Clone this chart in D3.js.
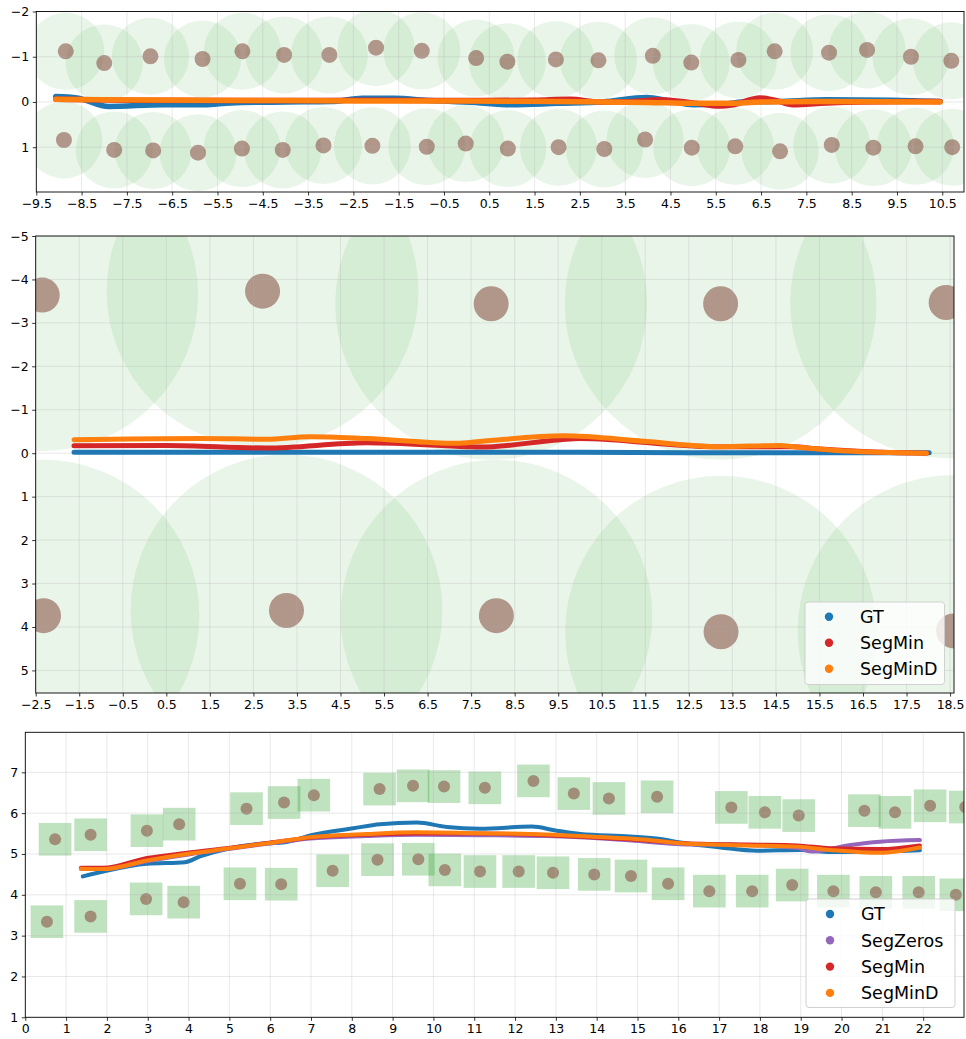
<!DOCTYPE html>
<html>
<head>
<meta charset="utf-8">
<script src="https://cdn.jsdelivr.net/npm/d3@7"></script>
<style>
body { margin: 0; background: #fff; }
svg { display: block; font-family: "DejaVu Sans", sans-serif; }
</style>
</head>
<body>
<svg id="vis" width="966" height="1039"></svg>
<script>
// ---- panel 1 : cones on both sides, trajectories near y = 0
var p1UpperCones = [[-8.85,-1.12],[-8.0,-0.86],[-6.98,-1.01],[-5.83,-0.95],[-4.95,-1.12],[-4.03,-1.04],[-3.03,-1.04],[-2.0,-1.2],[-0.99,-1.13],[0.21,-0.97],
	[0.9,-0.89],[1.97,-0.94],[2.91,-0.92],[4.11,-1.02],[4.96,-0.87],[6.0,-0.93],[6.8,-1.12],[8.0,-1.09],[8.84,-1.15],[9.81,-1.0],[10.7,-0.91]];
var p1LowerCones = [[-8.89,0.84],[-7.78,1.06],[-6.92,1.07],[-5.93,1.12],[-4.96,1.03],[-4.06,1.06],[-3.16,0.96],[-2.08,0.97],[-0.88,0.99],[-0.02,0.92],
	[0.91,1.03],[2.03,1.0],[3.04,1.04],[3.94,0.83],[4.97,1.01],[5.93,0.98],[6.92,1.09],[8.06,0.95],[8.98,1.01],[9.91,0.98],[10.72,1.0]];
var p1ConeRadius = 0.85;
var p1GT = [[-9.07,-0.12],[-8.6,-0.09],[-7.9,0.10],[-6.7,0.06],[-5.8,0.06],[-5.2,0.02],[-4.0,0.0],[-3.0,-0.01],[-2.3,-0.08],[-1.6,-0.08],[-0.8,-0.03],
	[0.3,0.02],[1.0,0.06],[2.0,0.03],[3.0,0.0],[3.97,-0.10],[4.5,-0.02],[5.0,0.06],[5.6,0.05],[6.1,0.0],[6.85,-0.01],[7.95,-0.05],[9.4,-0.04],[10.45,-0.01]];
var p1SegMin = [[-9.07,-0.06],[-7.5,-0.04],[-5.0,-0.03],[-2.0,-0.04],[0.0,-0.03],[1.5,-0.04],[2.28,-0.06],[2.94,0.0],[3.5,0.0],[4.26,-0.05],[5.0,0.02],
	[5.59,0.09],[5.89,0.06],[6.47,-0.09],[6.8,-0.04],[7.2,0.06],[7.95,0.02],[8.7,0.0],[10.45,-0.01]];
var p1SegMinD = [[-9.07,-0.06],[-8.0,-0.05],[-6.0,-0.04],[-4.0,-0.03],[-2.0,-0.02],[0.0,-0.02],[2.0,-0.01],[4.0,0.01],[5.0,0.03],[5.8,0.03],[6.5,0.0],[8.0,-0.01],[10.45,0.0]];
var p1XTicks = d3.range(-9.5, 10.6, 1);
var p1YTicks = [-2, -1, 0, 1];

// ---- panel 2 : wide cones
var p2UpperCones = [[-2.35,-3.64],[2.71,-3.73],[7.96,-3.44],[13.23,-3.44],[18.41,-3.47]];
var p2LowerCones = [[-2.32,3.74],[3.26,3.62],[8.08,3.74],[13.24,4.11],[18.58,4.09]];
var p2ConeRadius = 3.58;
var p2GT = [[-1.62,-0.02],[2,-0.02],[6,-0.02],[10,-0.02],[14,-0.01],[18.02,-0.01]];
var p2SegMin = [[-1.62,-0.17],[0.51,-0.18],[2.8,-0.12],[5.1,-0.24],[7.4,-0.15],[7.7,-0.14],[9.54,-0.31],[9.99,-0.34],[13.06,-0.15],[14.9,-0.15],
	[15.35,-0.11],[16.5,-0.04],[17.96,0.0]];
var p2SegMinD = [[-1.62,-0.31],[1.27,-0.34],[2.8,-0.32],[3.8,-0.38],[5.1,-0.34],[7.17,-0.23],[7.7,-0.27],[9.62,-0.4],[11.53,-0.27],[13.2,-0.15],
	[14.6,-0.18],[14.9,-0.15],[16.1,-0.05],[17.96,0.0]];
var p2XTicks = d3.range(-2.5, 18.6, 1);
var p2YTicks = d3.range(-5, 6, 1);

// ---- panel 3 : square cones
var p3UpperCones = [[0.73,5.36],[1.6,5.47],[2.98,5.57],[3.77,5.73],[5.42,6.11],[6.34,6.26],[7.07,6.44],[8.68,6.59],[9.5,6.67],[10.26,6.65],[11.26,6.62],
	[12.45,6.79],[13.44,6.48],[14.3,6.36],[15.48,6.4],[17.3,6.14],[18.12,6.02],[18.95,5.94],[20.56,6.06],[21.31,6.02],[22.17,6.18],[23.03,6.15]];
var p3LowerCones = [[0.53,3.34],[1.6,3.47],[2.96,3.9],[3.88,3.82],[5.26,4.27],[6.27,4.26],[7.53,4.59],[8.63,4.86],[9.63,4.87],[10.28,4.61],[11.14,4.57],
	[12.09,4.57],[12.93,4.54],[13.94,4.5],[14.84,4.46],[15.75,4.27],[16.76,4.09],[17.81,4.09],[18.79,4.24],[19.8,4.09],[20.84,4.06],[21.89,4.06],[22.8,4.0]];
var p3ConeSide = 0.8;
var p3GT = [[1.41,4.45],[1.99,4.59],[2.98,4.76],[3.91,4.8],[4.28,4.94],[5.02,5.14],[5.92,5.26],[6.32,5.28],[7.06,5.47],[8.04,5.63],[8.69,5.73],[9.59,5.77],
	[10.33,5.66],[11.14,5.62],[12.41,5.67],[13.02,5.57],[13.6,5.49],[14.82,5.43],[15.56,5.37],[16.05,5.28],[17.03,5.16],[17.93,5.08],[19.0,5.1],
	[19.72,5.05],[20.94,5.06],[21.92,5.09]];
var p3SegZeros = [[1.36,4.64],[1.91,4.63],[2.98,4.82],[3.96,4.98],[5.02,5.13],[5.92,5.25],[6.98,5.38],[8.37,5.44],[9.59,5.47],[11.14,5.46],[12.78,5.44],
	[13.84,5.4],[15.23,5.3],[16.05,5.24],[17.68,5.22],[18.91,5.15],[19.25,5.06],[20.22,5.22],[20.94,5.3],[21.92,5.34]];
var p3SegMin = [[1.36,4.66],[1.91,4.66],[2.98,4.9],[3.96,5.03],[5.02,5.15],[5.92,5.27],[6.98,5.4],[8.37,5.47],[9.59,5.5],[11.14,5.5],[12.78,5.46],
	[13.84,5.41],[15.23,5.33],[16.05,5.27],[17.68,5.23],[18.91,5.21],[19.72,5.14],[20.94,5.12],[21.92,5.21]];
var p3SegMinD = [[1.36,4.64],[1.91,4.63],[2.98,4.84],[3.96,5.0],[5.02,5.14],[5.92,5.26],[6.98,5.41],[8.37,5.49],[9.59,5.53],[11.14,5.51],[12.78,5.48],
	[13.84,5.43],[15.23,5.35],[16.05,5.26],[17.68,5.21],[18.91,5.18],[19.72,5.1],[20.94,5.03],[21.92,5.16]];
var p3XTicks = d3.range(0, 23, 1);
var p3YTicks = d3.range(1, 8, 1);

var legend2 = ["GT", "SegMin", "SegMinD"];
var legend3 = ["GT", "SegZeros", "SegMin", "SegMinD"];

var COLORS = {GT: "#1f77b4", SegZeros: "#9467bd", SegMin: "#d62728", SegMinD: "#ff7f0e"};
var GREEN = "#2ca02c", BROWN = "#8c564b";

var svg = d3.select("#vis");

function makePanel(id, box, xDom, yDom, yUp) {
	var x = d3.scaleLinear().domain(xDom).range([box.left, box.right]);
	var y = d3.scaleLinear().domain(yDom).range(yUp ? [box.bottom, box.top] : [box.top, box.bottom]);
	svg.append("clipPath").attr("id", id).append("rect")
	   .attr("x", box.left).attr("y", box.top)
	   .attr("width", box.right - box.left).attr("height", box.bottom - box.top);
	var g = svg.append("g");
	var plot = g.append("g").attr("clip-path", "url(#" + id + ")");
	return {x: x, y: y, g: g, plot: plot, box: box};
}

function drawCircles(p, cones, r, dotR) {
	var rpx = Math.abs(p.x(r) - p.x(0));
	p.plot.append("g").selectAll("circle").data(cones).enter().append("circle")
	  .attr("cx", d => p.x(d[0])).attr("cy", d => p.y(d[1])).attr("r", rpx)
	  .style("fill", GREEN).style("fill-opacity", 0.1);
}

function drawSquares(p, cones, side) {
	var s = Math.abs(p.x(side) - p.x(0));
	p.plot.append("g").selectAll("rect").data(cones).enter().append("rect")
	  .attr("x", d => p.x(d[0]) - s / 2).attr("y", d => p.y(d[1]) - s / 2)
	  .attr("width", s).attr("height", s)
	  .style("fill", GREEN).style("fill-opacity", 0.3);
}

function drawDots(p, cones, dotR) {
	p.plot.append("g").selectAll("circle").data(cones).enter().append("circle")
	  .attr("cx", d => p.x(d[0])).attr("cy", d => p.y(d[1])).attr("r", dotR)
	  .style("fill", BROWN).style("fill-opacity", 0.6);
}

function drawGrid(p, xTicks, yTicks) {
	var gg = p.plot.append("g").style("stroke", "#b0b0b0").style("stroke-opacity", 0.35).style("stroke-width", 0.8);
	gg.selectAll("line.vx").data(xTicks).enter().append("line")
	  .attr("x1", d => p.x(d)).attr("x2", d => p.x(d))
	  .attr("y1", p.box.top).attr("y2", p.box.bottom);
	gg.selectAll("line.hy").data(yTicks).enter().append("line")
	  .attr("y1", d => p.y(d)).attr("y2", d => p.y(d))
	  .attr("x1", p.box.left).attr("x2", p.box.right);
}

function drawTrack(p, pts, color, width) {
	var line = d3.line().x(d => p.x(d[0])).y(d => p.y(d[1])).curve(d3.curveMonotoneX);
	p.plot.append("path").attr("d", line(pts))
	  .style("fill", "none").style("stroke", color).style("stroke-width", width)
	  .style("stroke-linecap", "round").style("stroke-linejoin", "round");
}

function drawAxes(p, xTicks, yTicks, xFmt, yFmt) {
	var xa = d3.axisBottom(p.x).tickValues(xTicks).tickFormat(xFmt).tickSize(3.5).tickPadding(3.5).tickSizeOuter(0);
	var ya = d3.axisLeft(p.y).tickValues(yTicks).tickFormat(yFmt).tickSize(3.5).tickPadding(3.5).tickSizeOuter(0);
	var gx = p.g.append("g").attr("transform", "translate(0," + p.box.bottom + ")").call(xa);
	var gy = p.g.append("g").attr("transform", "translate(" + p.box.left + ",0)").call(ya);
	[gx, gy].forEach(function(a) {
		a.select(".domain").remove();
		a.selectAll("line").style("stroke", "#000").style("stroke-width", 0.8);
		a.selectAll("text").style("font-size", "12.5px").style("fill", "#000")
		 .style("font-family", '"DejaVu Sans", sans-serif');
	});
	p.g.append("rect").attr("x", p.box.left).attr("y", p.box.top)
	   .attr("width", p.box.right - p.box.left).attr("height", p.box.bottom - p.box.top)
	   .style("fill", "none").style("stroke", "#000").style("stroke-width", 0.9);
}

function drawLegend(p, box, names, rowY0, rowStep) {
	var lg = p.g.append("g");
	lg.append("rect").attr("x", box.x).attr("y", box.y).attr("width", box.w).attr("height", box.h)
	  .attr("rx", 3).style("fill", "#fff").style("fill-opacity", 0.8)
	  .style("stroke", "#cccccc").style("stroke-width", 0.9);
	var rows = lg.selectAll("g.row").data(names).enter().append("g")
	  .attr("transform", (d, i) => "translate(0," + (rowY0 + i * rowStep) + ")");
	rows.append("circle").attr("cx", box.x + 24).attr("cy", 0).attr("r", 4.2)
	  .style("fill", d => COLORS[d]);
	rows.append("text").attr("x", box.x + 55).attr("y", 0).attr("dy", "0.36em")
	  .style("font-size", "17.5px").style("fill", "#000").text(d => d);
}

var f1 = d3.format(".1f"), f0 = d3.format("d");

// panel 1
var p1 = makePanel("clip1", {left: 36.3, right: 964, top: 11.5, bottom: 192}, [-9.5, 10.98], [-2, 1.99], false);
drawCircles(p1, p1UpperCones.concat(p1LowerCones), p1ConeRadius);
drawDots(p1, p1UpperCones.concat(p1LowerCones), 8);
drawGrid(p1, p1XTicks, p1YTicks);
drawTrack(p1, p1GT, COLORS.GT, 5.5);
drawTrack(p1, p1SegMin, COLORS.SegMin, 5.5);
drawTrack(p1, p1SegMinD, COLORS.SegMinD, 5.5);
drawAxes(p1, p1XTicks, p1YTicks, f1, f0);

// panel 2
var p2 = makePanel("clip2", {left: 35.7, right: 954, top: 236, bottom: 693}, [-2.5, 18.59], [-5, 5.52], false);
drawCircles(p2, p2UpperCones.concat(p2LowerCones), p2ConeRadius);
drawDots(p2, p2UpperCones.concat(p2LowerCones), 17.5);
drawGrid(p2, p2XTicks, p2YTicks);
drawTrack(p2, p2GT, COLORS.GT, 5);
drawTrack(p2, p2SegMin, COLORS.SegMin, 5);
drawTrack(p2, p2SegMinD, COLORS.SegMinD, 5);
drawAxes(p2, p2XTicks, p2YTicks, f1, f0);
drawLegend(p2, {x: 805, y: 602, w: 139.5, h: 82.5}, legend2, 616.7, 26);

// panel 3
var p3 = makePanel("clip3", {left: 25.3, right: 964, top: 732.3, bottom: 1017.3}, [0, 23], [1, 7.98], true);
drawSquares(p3, p3UpperCones.concat(p3LowerCones), p3ConeSide);
drawDots(p3, p3UpperCones.concat(p3LowerCones), 6);
drawGrid(p3, p3XTicks, p3YTicks);
drawTrack(p3, p3GT, COLORS.GT, 4);
drawTrack(p3, p3SegZeros, COLORS.SegZeros, 4);
drawTrack(p3, p3SegMin, COLORS.SegMin, 4);
drawTrack(p3, p3SegMinD, COLORS.SegMinD, 4);
drawAxes(p3, p3XTicks, p3YTicks, f0, f0);
drawLegend(p3, {x: 806, y: 899, w: 149, h: 108.5}, legend3, 914, 26.3);
</script>
</body>
</html>
